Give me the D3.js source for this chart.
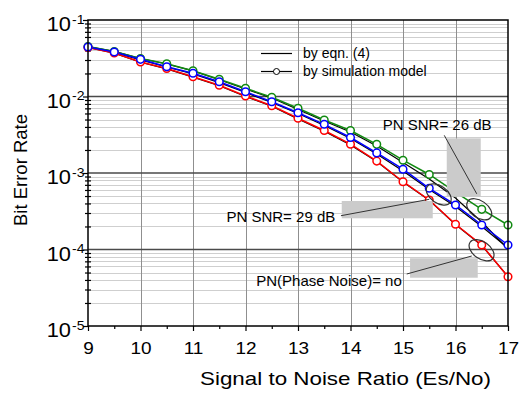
<!DOCTYPE html>
<html>
<head>
<meta charset="utf-8">
<script src="https://cdn.jsdelivr.net/npm/d3@7"></script>
<style>
body { margin: 0; background: #fff; }
svg { display: block; }
text { font-family: "Liberation Sans", Arial, sans-serif; fill: #000; }
</style>
</head>
<body>
<script>
// Es/No points (dB)
var snr = [9, 9.5, 10, 10.5, 11, 11.5, 12, 12.5, 13, 13.5, 14, 14.5, 15, 15.5, 16, 16.5, 17];

// simulation model (circles)
var sim26 = [4.50e-2, 3.88e-2, 3.14e-2, 2.68e-2, 2.17e-2, 1.68e-2, 1.28e-2, 9.76e-3, 7.01e-3, 4.93e-3, 3.59e-3, 2.37e-3, 1.47e-3, 9.56e-4, 5.64e-4, 3.35e-4, 2.09e-4];
var sim29 = [4.44e-2, 3.82e-2, 3.06e-2, 2.45e-2, 2.01e-2, 1.56e-2, 1.155e-2, 8.55e-3, 6.14e-3, 4.33e-3, 2.91e-3, 1.83e-3, 1.12e-3, 6.31e-4, 3.82e-4, 2.09e-4, 1.145e-4];
var simNo = [4.37e-2, 3.70e-2, 2.82e-2, 2.32e-2, 1.815e-2, 1.40e-2, 1.015e-2, 7.58e-3, 5.19e-3, 3.59e-3, 2.38e-3, 1.43e-3, 7.69e-4, 4.44e-4, 2.135e-4, 1.145e-4, 4.41e-5];

// by eqn. (4) (black lines)
var eqn26 = [4.50e-2, 3.88e-2, 3.14e-2, 2.66e-2, 2.16e-2, 1.653e-2, 1.253e-2, 9.56e-3, 6.76e-3, 4.78e-3, 3.44e-3, 2.25e-3, 1.372e-3, 8.35e-4, 4.71e-4, 2.29e-4, 1.015e-4];
var eqn29 = [4.44e-2, 3.76e-2, 3.00e-2, 2.43e-2, 1.97e-2, 1.52e-2, 1.128e-2, 8.35e-3, 5.99e-3, 4.18e-3, 2.82e-3, 1.77e-3, 1.062e-3, 6.09e-4, 3.65e-4, 2.00e-4, 1.046e-4];
var eqnNo = [4.37e-2, 3.68e-2, 2.80e-2, 2.30e-2, 1.79e-2, 1.38e-2, 1.00e-2, 7.45e-3, 5.10e-3, 3.52e-3, 2.33e-3, 1.41e-3, 7.6e-4, 4.4e-4, 2.12e-4, 1.13e-4, 4.41e-5];

var xTicks = [9, 10, 11, 12, 13, 14, 15, 16, 17];
var xMinor = [9.5, 10.5, 11.5, 12.5, 13.5, 14.5, 15.5, 16.5];
var yTicks = [1e-1, 1e-2, 1e-3, 1e-4, 1e-5];
var yTickExp = ['-1', '-2', '-3', '-4', '-5'];

var width = 524, height = 394;
var plotL = 88, plotR = 508, plotT = 20, plotB = 326;

var x = d3.scaleLinear().domain([9, 17]).range([plotL, plotR]);
var y = d3.scaleLog().domain([1e-5, 1e-1]).range([plotB, plotT]);

var yMinor = [];
[1e-5, 1e-4, 1e-3, 1e-2].forEach(function (d) {
    for (var k = 2; k <= 9; k++) yMinor.push(k * d);
});

var svg = d3.select('body').append('svg')
    .attr('width', width)
    .attr('height', height);

// grid
svg.append('g').selectAll('line')
    .data(yMinor).enter().append('line')
    .attr('x1', plotL).attr('x2', plotR)
    .attr('y1', function (d) { return Math.round(y(d)) + 0.5; })
    .attr('y2', function (d) { return Math.round(y(d)) + 0.5; })
    .attr('stroke', '#cfcfcf').attr('stroke-width', 1);

svg.append('g').selectAll('line')
    .data(xTicks.slice(1, -1)).enter().append('line')
    .attr('x1', function (d) { return Math.round(x(d)) + 0.5; })
    .attr('x2', function (d) { return Math.round(x(d)) + 0.5; })
    .attr('y1', plotT).attr('y2', plotB)
    .attr('stroke', '#8f8f8f').attr('stroke-width', 1);

svg.append('g').selectAll('line')
    .data(yTicks.slice(1, -1)).enter().append('line')
    .attr('x1', plotL).attr('x2', plotR)
    .attr('y1', function (d) { return y(d); })
    .attr('y2', function (d) { return y(d); })
    .attr('stroke', '#4a4a4a').attr('stroke-width', 1.5);

// axes
var xAxis = svg.append('g')
    .attr('transform', 'translate(0,' + plotB + ')')
    .call(d3.axisBottom(x).tickValues(xTicks).tickSize(5).tickFormat(''));
var xAxisMinor = svg.append('g')
    .attr('transform', 'translate(0,' + plotB + ')')
    .call(d3.axisBottom(x).tickValues(xMinor).tickSize(3).tickFormat(''));
var yAxis = svg.append('g')
    .attr('transform', 'translate(' + plotL + ',0)')
    .call(d3.axisLeft(y).tickValues(yTicks).tickSize(5).tickFormat(''));
var yAxisMinor = svg.append('g')
    .attr('transform', 'translate(' + plotL + ',0)')
    .call(d3.axisLeft(y).tickValues(yMinor).tickSize(3).tickFormat(''));
yAxisMinor.selectAll('.tick line').attr('x2', 3).attr('x1', -3);

[xAxis, xAxisMinor, yAxis, yAxisMinor].forEach(function (a) {
    a.select('.domain').remove();
    a.selectAll('.tick line').attr('stroke', '#000').attr('stroke-width', 1.2);
});

xAxis.selectAll('.tick').append('text')
    .attr('transform', 'translate(0,28) scale(1.15,1)')
    .attr('text-anchor', 'middle')
    .style('font-size', '16.5px')
    .text(function (d) { return d; });

var yLab = yAxis.selectAll('.tick').append('g')
    .attr('transform', 'translate(-17,0) scale(1.12,1)');
yLab.append('text')
    .attr('y', 10.7)
    .attr('text-anchor', 'end')
    .style('font-size', '19.5px')
    .text('10');
yLab.append('text')
    .attr('x', 1)
    .attr('y', 3.3)
    .attr('text-anchor', 'start')
    .style('font-size', '12.5px')
    .text(function (d, i) { return yTickExp[i]; });

// axis titles
svg.append('text')
    .attr('x', 200).attr('y', 385)
    .attr('textLength', 291).attr('lengthAdjust', 'spacingAndGlyphs')
    .style('font-size', '19px')
    .text('Signal to Noise Ratio (Es/No)');

svg.append('text')
    .attr('transform', 'translate(27,170) rotate(-90)')
    .attr('text-anchor', 'middle')
    .style('font-size', '18.5px')
    .text('Bit Error Rate');

// curves
var line = d3.line()
    .x(function (d, i) { return x(snr[i]); })
    .y(function (d) { return y(d); });

[eqnNo, eqn29, eqn26].forEach(function (s) {
    svg.append('path').datum(s)
        .attr('d', line)
        .attr('fill', 'none')
        .attr('stroke', '#000')
        .attr('stroke-width', 1.2);
});

var sims = [
    { values: sim26, color: '#118a11' },
    { values: simNo, color: '#ff0000' },
    { values: sim29, color: '#0000ff' }
];

sims.forEach(function (s) {
    svg.append('path').datum(s.values)
        .attr('d', line)
        .attr('fill', 'none')
        .attr('stroke', s.color)
        .attr('stroke-width', 1.5);
});
sims.forEach(function (s) {
    svg.append('g').selectAll('circle')
        .data(s.values).enter().append('circle')
        .attr('cx', function (d, i) { return x(snr[i]); })
        .attr('cy', function (d) { return y(d); })
        .attr('r', 3.8)
        .attr('fill', '#fff')
        .attr('stroke', s.color)
        .attr('stroke-width', 1.5);
});

// frame
svg.append('rect')
    .attr('x', plotL).attr('y', plotT)
    .attr('width', plotR - plotL).attr('height', plotB - plotT)
    .attr('fill', 'none')
    .attr('stroke', '#000')
    .attr('stroke-width', 1.5);

// annotations: anchored on a simulated point, offsets in px
var notes = [
    { text: 'PN SNR= 26 dB', s: sim26, i: 15, ex: -2.5, ey: 0,
      box: [-32.5, -71, 34, 58.5], from: [-35, -74], to: [-2.5, -15.5],
      tx: -96.5, ty: -79, anchor: 'start' },
    { text: 'PN SNR= 29 dB', s: sim29, i: 13, ex: 9.5, ey: 6.2,
      box: [-97, 6.5, 91, 17.3], from: [-97.8, 21.2], to: [-9.5, 4.8],
      tx: -103.5, ty: 27.2, anchor: 'end' },
    { text: 'PN(Phase Noise)= no', s: simNo, i: 15, ex: -0.2, ey: 5.3,
      box: [-71.5, 8, 67.7, 19.4], from: [-74.8, 23.7], to: [-9.8, 5.7],
      tx: -79.8, ty: 35.7, anchor: 'end' }
];

notes.forEach(function (n) {
    var cx = x(snr[n.i]) + n.ex, cy = y(n.s[n.i]) + n.ey;
    var g = svg.append('g').attr('transform', 'translate(' + cx + ',' + cy + ')');
    g.append('rect')
        .attr('x', n.box[0]).attr('y', n.box[1])
        .attr('width', n.box[2]).attr('height', n.box[3])
        .attr('fill', '#cbcbcb');
    g.append('ellipse')
        .attr('rx', 14).attr('ry', 8.5)
        .attr('transform', 'rotate(35)')
        .attr('fill', 'none')
        .attr('stroke', '#333')
        .attr('stroke-width', 1.2);
    g.append('line')
        .attr('x1', n.from[0]).attr('y1', n.from[1])
        .attr('x2', n.to[0]).attr('y2', n.to[1])
        .attr('stroke', '#333')
        .attr('stroke-width', 1);
    g.append('text')
        .attr('x', n.tx).attr('y', n.ty)
        .attr('text-anchor', n.anchor)
        .style('font-size', '15px')
        .text(n.text);
});

// legend
var leg = svg.append('g');
leg.append('line').attr('x1', 261).attr('x2', 292).attr('y1', 53.5).attr('y2', 53.5)
    .attr('stroke', '#000').attr('stroke-width', 1.2);
leg.append('text').attr('x', 303).attr('y', 58).style('font-size', '14px').text('by eqn. (4)');
leg.append('line').attr('x1', 261).attr('x2', 292).attr('y1', 71.5).attr('y2', 71.5)
    .attr('stroke', '#000').attr('stroke-width', 1.2);
leg.append('circle').attr('cx', 276.5).attr('cy', 71.5).attr('r', 3)
    .attr('fill', '#fff').attr('stroke', '#000').attr('stroke-width', 1);
leg.append('text').attr('x', 303).attr('y', 76).style('font-size', '14px').text('by simulation model');
</script>
</body>
</html>
